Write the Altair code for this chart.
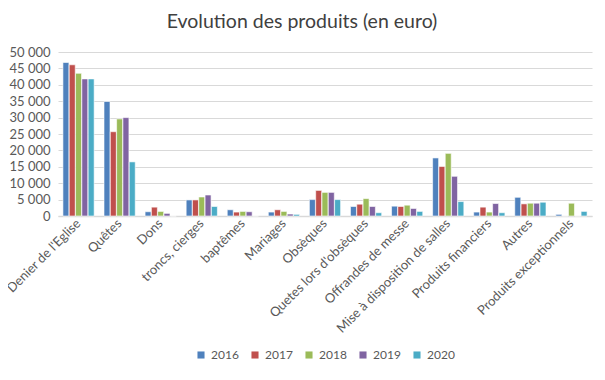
import altair as alt
import pandas as pd

categories = ["Denier de l'Eglise", "Quêtes", "Dons", "troncs, cierges", "baptêmes",
              "Mariages", "Obsèques", "Quetes lors d'obsèques", "Offrandes de messe",
              "Mise à disposition de salles", "Produits financiers", "Autres",
              "Produits exceptionnels"]
years = ["2016", "2017", "2018", "2019", "2020"]
v2016 = [46800, 34900, 1300, 4900, 1900, 1200, 5000, 2900, 3000, 17700, 1200, 5700, 500]
v2017 = [46100, 25700, 2700, 4900, 1200, 1900, 7800, 3600, 2900, 15100, 2700, 3700, 0]
v2018 = [43500, 29600, 1400, 5800, 1400, 1400, 7200, 5300, 3300, 19100, 1200, 3900, 3900]
v2019 = [41800, 30000, 800, 6400, 1300, 600, 7200, 2900, 2300, 12100, 3800, 3900, 0]
v2020 = [41800, 16500, 0, 2900, 0, 500, 5000, 1000, 1400, 4400, 1000, 4200, 1400]
colors = ["#4F81BD", "#C0504D", "#9BBB59", "#8064A2", "#4BACC6"]
y_ticks = [0, 5000, 10000, 15000, 20000, 25000, 30000, 35000, 40000, 45000, 50000]

rows = []
for yr, vals in zip(years, [v2016, v2017, v2018, v2019, v2020]):
    for c, v in zip(categories, vals):
        rows.append({"cat": c, "year": yr, "value": v})
df = pd.DataFrame(rows)

font = "Lato"

chart = alt.Chart(df).mark_bar(stroke="white", strokeWidth=0.6).encode(
    x=alt.X("cat:N", sort=categories,
            scale=alt.Scale(paddingInner=0.24, paddingOuter=0.12),
            axis=alt.Axis(title=None, labelAngle=-45, labelAlign="right",
                          labelBaseline="middle", labelPadding=5, ticks=False,
                          domainColor="#D9D9D9", domainWidth=1.5,
                          labelFontSize=13, labelColor="#595959", labelFont=font,
                          labelLimit=300)),
    xOffset=alt.XOffset("year:N", sort=years, scale=alt.Scale(paddingInner=0.05)),
    y=alt.Y("value:Q", scale=alt.Scale(domain=[0, 50000], nice=False),
            axis=alt.Axis(title=None, values=y_ticks, ticks=False, domain=False,
                          gridColor="#D9D9D9", gridWidth=1.2,
                          labelExpr="replace(format(datum.value, ',d'), ',', ' ')",
                          labelFontSize=13, labelColor="#595959", labelFont=font,
                          labelPadding=8)),
    color=alt.Color("year:N", sort=years,
                    scale=alt.Scale(domain=years, range=colors),
                    legend=alt.Legend(title=None, orient="none", direction="horizontal",
                                      legendX=137, legendY=297, symbolType="square",
                                      symbolSize=50, symbolStrokeWidth=0,
                                      labelFontSize=12, labelColor="#595959",
                                      labelFont=font, columnPadding=10)),
).properties(
    width=534, height=164,
    title=alt.TitleParams("Evolution des produits (en euro)", fontSize=19.5,
                          font=font, fontWeight="normal", color="#404040",
                          anchor="middle", offset=14, dx=-23),
    autosize=alt.AutoSizeParams(type="none"),
    padding={"left": 50, "top": 44, "right": 5, "bottom": 150},
).configure_view(stroke=None)

chart.save("out.html", embed_options={"renderer": "svg", "actions": False})
